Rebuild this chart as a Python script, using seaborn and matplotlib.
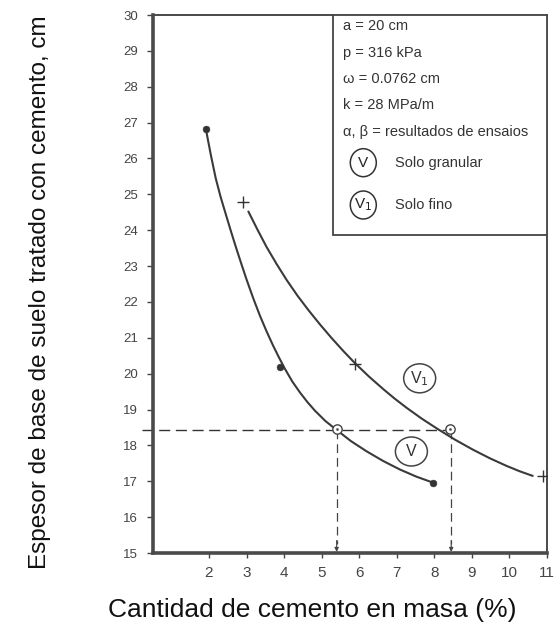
import numpy as np
import pandas as pd
import matplotlib
matplotlib.use("Agg")
import matplotlib.pyplot as plt
import seaborn as sns
from matplotlib.patches import Ellipse, Rectangle

# ---------------- data ----------------
# curve V (solo granular)
v_x = [1.92, 2.05, 2.18, 2.31, 2.45, 2.58, 2.72, 2.86, 3.00, 3.18, 3.36, 3.53, 3.70, 3.86,
       4.02, 4.22, 4.42, 4.62, 4.82, 5.10, 5.40, 5.78, 6.19, 6.63, 7.08, 7.52, 7.97]
v_y = [26.81, 26.10, 25.45, 24.93, 24.44, 23.99, 23.52, 23.07, 22.63, 22.10, 21.61, 21.19,
       20.80, 20.46, 20.14, 19.78, 19.48, 19.21, 18.97, 18.68, 18.43, 18.12, 17.84, 17.57,
       17.33, 17.13, 16.96]
# curve V1 (solo fino)
v1_x = [3.05, 3.29, 3.53, 3.80, 4.07, 4.36, 4.65, 4.95, 5.26, 5.57, 5.88, 6.26, 6.64, 6.95,
        7.26, 7.66, 8.07, 8.55, 9.03, 9.48, 9.92, 10.27, 10.62]
v1_y = [24.52, 24.02, 23.54, 23.06, 22.61, 22.17, 21.77, 21.38, 21.00, 20.64, 20.30, 19.92,
        19.57, 19.30, 19.05, 18.75, 18.47, 18.16, 17.88, 17.64, 17.43, 17.28, 17.15]
# test points
v_pts_x = [1.92, 3.88, 7.97]
v_pts_y = [26.81, 20.18, 16.96]
v1_pts_x = [2.91, 5.88, 10.89]
v1_pts_y = [24.80, 20.27, 17.15]
# design thickness and resulting cement contents
design_y = 18.43
design_x = [5.40, 8.45]
open_pts_x = [5.40, 8.41]
open_pts_y = [18.45, 18.45]

x_ticks = [2, 3, 4, 5, 6, 7, 8, 9, 10, 11]
y_ticks = list(range(15, 31))

info_lines = ["a = 20 cm", "p = 316 kPa", "\u03c9 = 0.0762 cm", "k = 28 MPa/m",
              "\u03b1, \u03b2 = resultados de ensaios"]
legend_labels = ["Solo granular", "Solo fino"]
xlabel = "Cantidad de cemento en masa (%)"
ylabel = "Espesor de base de suelo tratado con cemento, cm"

# ---------------- style ----------------
sns.set_theme(style="white")
plt.rcParams["font.family"] = ["Liberation Sans", "DejaVu Sans"]

W, H = 560, 631
fig = plt.figure(figsize=(W / 100, H / 100), dpi=100)
ax = fig.add_axes([152.6 / W, 1 - 553 / H, (547 - 152.6) / W, (553 - 15) / H])
ax.set_xlim(0.5, 11)
ax.set_ylim(15, 30)

# px -> data scale helpers for sizes
sx = (11 - 0.5) / (547 - 152.6)
sy = (30 - 15) / (553 - 15)

line_col = "#3a3a3a"

df_v = pd.DataFrame({"x": v_x, "y": v_y})
df_v1 = pd.DataFrame({"x": v1_x, "y": v1_y})
sns.lineplot(data=df_v, x="x", y="y", sort=False, color=line_col, lw=1.5, ax=ax, zorder=3)
sns.lineplot(data=df_v1, x="x", y="y", sort=False, color=line_col, lw=1.5, ax=ax, zorder=3)

# dashed guide lines
ax.plot([0.22, 8.30], [design_y, design_y], color="#333333", lw=1.0,
        linestyle=(0, (8, 4)), clip_on=False, zorder=2)
for xv in design_x:
    ax.plot([xv, xv], [design_y, 15.25], color="#444444", lw=0.9,
            linestyle=(0, (7, 4)), zorder=2)
    ax.annotate("", xy=(xv, 15.03), xytext=(xv, 15.35),
                arrowprops=dict(arrowstyle="-|>", color="#444444", lw=0.8,
                                mutation_scale=6, shrinkA=0, shrinkB=0), zorder=2)

# markers
sns.scatterplot(x=v_pts_x, y=v_pts_y, color="#333333", s=24, edgecolor="#333333",
                ax=ax, zorder=4)
sns.scatterplot(x=v1_pts_x, y=v1_pts_y, marker="+", color="#333333", s=70,
                linewidth=1.0, ax=ax, zorder=4)
sns.scatterplot(x=open_pts_x, y=open_pts_y, marker="o", s=45, facecolor="white",
                edgecolor="#444444", linewidth=1.0, ax=ax, zorder=5)
sns.scatterplot(x=open_pts_x, y=open_pts_y, marker="o", s=3, color="#444444",
                edgecolor="#444444", ax=ax, zorder=6)

# curve labels in ellipses
for (cx, cy, txt) in [(7.61, 19.87, "V$_1$"), (7.39, 17.83, "V")]:
    ax.add_patch(Ellipse((cx, cy), 32 * sx, 29 * sy, facecolor="white",
                         edgecolor="#444444", lw=1.1, zorder=5))
    ax.text(cx, cy, txt, ha="center", va="center", fontsize=11.5,
            color="#333333", zorder=6)

# info box
bx0 = 0.5 + (333.3 - 152.6) * sx
by0 = 30 - (235 - 15) * sy
ax.add_patch(Rectangle((bx0, by0), 11 - bx0, 30 - by0, facecolor="white",
                       edgecolor="#444444", lw=1.3, zorder=5))
tx = 0.5 + (342.7 - 152.6) * sx
for i, line in enumerate(info_lines):
    py = [26, 52.7, 79.3, 105, 131.7][i]
    ax.text(tx, 30 - (py - 15) * sy, line, ha="left", va="center", fontsize=10.5,
            color="#333333", zorder=6)
cxl = 0.5 + (363.3 - 152.6) * sx
txl = 0.5 + (395 - 152.6) * sx
for py, sym, lab in [(162.7, "V", legend_labels[0]), (205, "V$_1$", legend_labels[1])]:
    yy = 30 - (py - 15) * sy
    ax.add_patch(Ellipse((cxl, yy), 26 * sx, 28 * sy, facecolor="white",
                         edgecolor="#333333", lw=1.1, zorder=6))
    ax.text(cxl, yy, sym, ha="center", va="center", fontsize=11, color="#222222", zorder=7)
    ax.text(txl, yy, lab, ha="left", va="center", fontsize=10.5, color="#333333", zorder=7)

# axes styling
ax.set_xticks(x_ticks)
ax.set_yticks(y_ticks)
ax.set_xticklabels([str(t) for t in x_ticks])
ax.set_yticklabels([str(t) for t in y_ticks])
ax.tick_params(axis="x", bottom=True, direction="out", length=3.6, width=1.0,
               pad=5.5, labelsize=11, colors="#444444")
ax.tick_params(axis="y", left=True, direction="out", length=4.3, width=1.0,
               pad=6.0, labelsize=9.5, colors="#444444")
ax.set_xlabel("")
ax.set_ylabel("")
for side in ["left", "bottom"]:
    ax.spines[side].set_linewidth(2.6)
    ax.spines[side].set_color("#4a4a4a")
for side in ["top", "right"]:
    ax.spines[side].set_linewidth(1.4)
    ax.spines[side].set_color("#4a4a4a")
    ax.spines[side].set_visible(True)
ax.grid(False)

fig.text(312 / W, 1 - 610 / H, xlabel, ha="center", va="center", fontsize=19, color="#111111")
fig.text(40 / W, 1 - 292 / H, ylabel, ha="center", va="center", rotation=90,
         fontsize=17.5, color="#111111")

fig.savefig("out.png", dpi=100)
